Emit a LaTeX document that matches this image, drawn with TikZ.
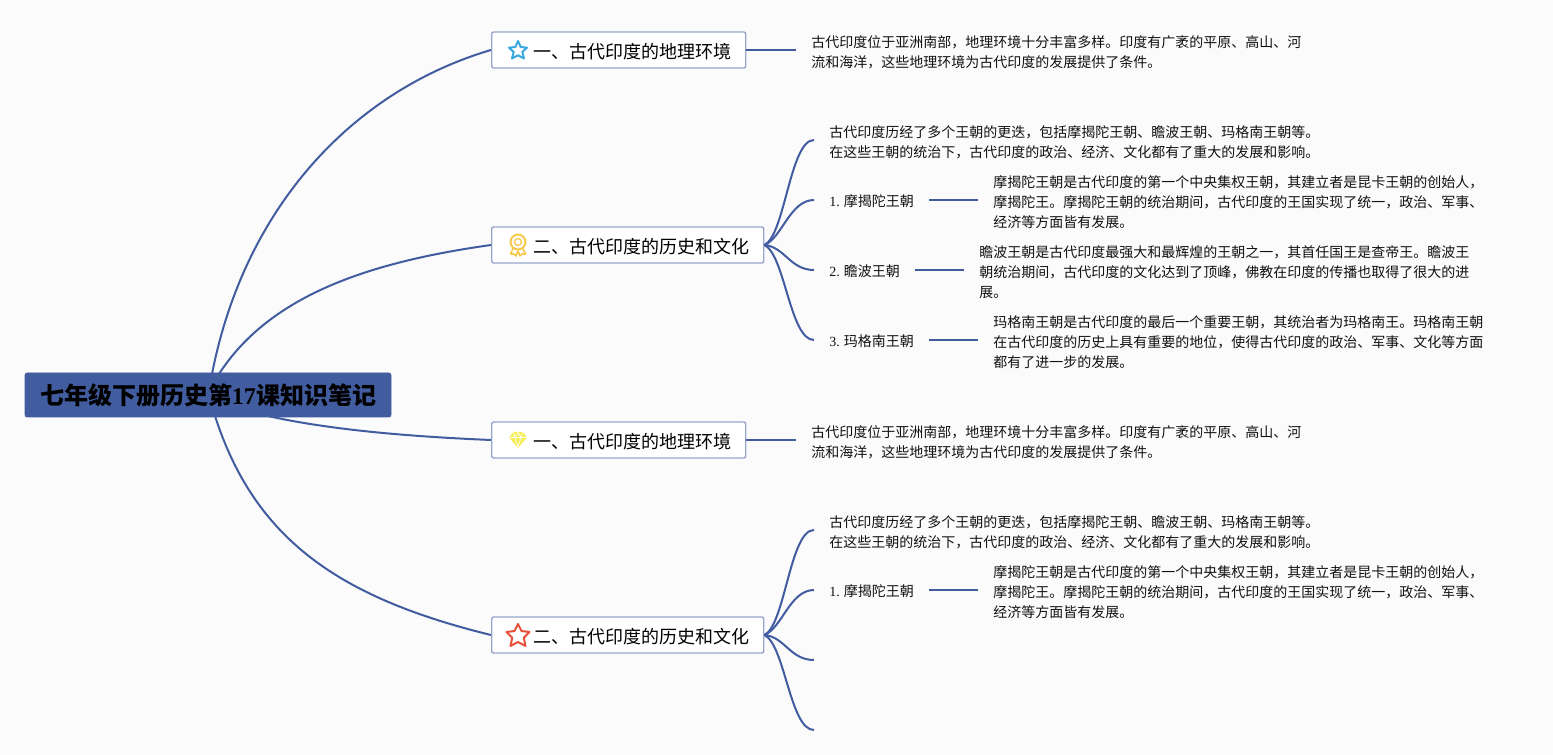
\documentclass[tikz,border=0pt]{standalone}
\usepackage{fontspec}
\setmainfont{Noto Sans CJK SC}
\newfontfamily\digitfont{Liberation Serif}
\definecolor{bgc}{HTML}{FBFBFC}
\definecolor{linec}{HTML}{425CA0}
\definecolor{boxc}{HTML}{98A6CC}
\definecolor{txtc}{HTML}{111111}
\definecolor{starblue}{HTML}{3AA8E0}
\definecolor{starred}{HTML}{E8503A}
\definecolor{medalc}{HTML}{F8C84A}
\definecolor{gemc}{HTML}{F6EC55}
\newcommand{\dg}[1]{{\digitfont #1}}
\tikzset{
  rootbox/.style={fill=linec,draw=linec,rounded corners=1.5pt,minimum width=274.5pt,minimum height=33pt,inner sep=0pt,text=black,text height=15pt,text depth=0pt,font=\fontsize{18}{22}\bfseries\selectfont},
  branchbox/.style={fill=white,draw=boxc,line width=1.1pt,rounded corners=1.5pt,minimum height=27pt,inner sep=0pt,anchor=west,text=black,text height=12.5pt,text depth=0pt,font=\fontsize{13.5}{16}\selectfont},
  leaf/.style={anchor=west,align=left,inner xsep=11.25pt,inner ysep=0pt,text=txtc,font=\fontsize{10.5}{15}\selectfont},
  tag/.style={leaf,text height=9.4pt,text depth=0pt},
  conn/.style={draw=linec,line width=1.5pt},
  icon/.style={line width=1.5pt,line join=round}
}
\newcommand{\boxtext}[1]{\hspace*{31.5pt}#1\hspace*{10.5pt}}
\begin{document}
\begin{tikzpicture}[x=0.75pt,y=-0.75pt]
\useasboundingbox (0,0) rectangle (1553,755);
\fill[bgc] (0,0) rectangle (1553,755);

\coordinate (r1) at (212,374);
\coordinate (r2) at (219,374);
\coordinate (r3) at (268,416);
\coordinate (r4) at (215,416);
\coordinate (e1) at (814,660);
\coordinate (e2) at (814,730);

\node[rootbox] (root) at (208,395) {七年级下册历史第\dg{17}课知识笔记};

\node[branchbox] (b1) at (491,50) {\boxtext{一、古代印度的地理环境}};
\node[branchbox] (b2) at (491,245) {\boxtext{二、古代印度的历史和文化}};
\node[branchbox] (b3) at (491,440) {\boxtext{一、古代印度的地理环境}};
\node[branchbox] (b4) at (491,635) {\boxtext{二、古代印度的历史和文化}};

\node[leaf] (a1) at (796,52) {古代印度位于亚洲南部，地理环境十分丰富多样。印度有广袤的平原、高山、河\\流和海洋，这些地理环境为古代印度的发展提供了条件。};
\node[leaf] (a2) at (814,142) {古代印度历经了多个王朝的更迭，包括摩揭陀王朝、瞻波王朝、玛格南王朝等。\\在这些王朝的统治下，古代印度的政治、经济、文化都有了重大的发展和影响。};
\node[tag] (l1) at (814,200) {\dg{1.} 摩揭陀王朝};
\node[tag] (l2) at (814,270) {\dg{2.} 瞻波王朝};
\node[tag] (l3) at (814,340) {\dg{3.} 玛格南王朝};
\node[leaf] (d1) at (978,202) {摩揭陀王朝是古代印度的第一个中央集权王朝，其建立者是昆卡王朝的创始人，\\摩揭陀王。摩揭陀王朝的统治期间，古代印度的王国实现了统一，政治、军事、\\经济等方面皆有发展。};
\node[leaf] (d2) at (964,272) {瞻波王朝是古代印度最强大和最辉煌的王朝之一，其首任国王是查帝王。瞻波王\\朝统治期间，古代印度的文化达到了顶峰，佛教在印度的传播也取得了很大的进\\展。};
\node[leaf] (d3) at (978,342) {玛格南王朝是古代印度的最后一个重要王朝，其统治者为玛格南王。玛格南王朝\\在古代印度的历史上具有重要的地位，使得古代印度的政治、军事、文化等方面\\都有了进一步的发展。};

\node[leaf] (a3) at (796,442) {古代印度位于亚洲南部，地理环境十分丰富多样。印度有广袤的平原、高山、河\\流和海洋，这些地理环境为古代印度的发展提供了条件。};
\node[leaf] (a4) at (814,532) {古代印度历经了多个王朝的更迭，包括摩揭陀王朝、瞻波王朝、玛格南王朝等。\\在这些王朝的统治下，古代印度的政治、经济、文化都有了重大的发展和影响。};
\node[tag] (l4) at (814,590) {\dg{1.} 摩揭陀王朝};
\node[leaf] (d4) at (978,592) {摩揭陀王朝是古代印度的第一个中央集权王朝，其建立者是昆卡王朝的创始人，\\摩揭陀王。摩揭陀王朝的统治期间，古代印度的王国实现了统一，政治、军事、\\经济等方面皆有发展。};

% root to branches
\draw[conn] (r1) .. controls (245,205) and (355,90) .. (b1.west);
\draw[conn] (r2) .. controls (270,295) and (370,262) .. (b2.west);
\draw[conn] (r3) .. controls (335,431) and (420,437) .. (b3.west);
\draw[conn] (r4) .. controls (255,540) and (340,598) .. (b4.west);

% branch to leaf
\draw[conn] (b1.east) -- (b1.east -| a1.west);
\draw[conn] (b3.east) -- (b3.east -| a3.west);
\draw[conn] (l1.east) -- (l1.east -| d1.west);
\draw[conn] (l2.east) -- (l2.east -| d2.west);
\draw[conn] (l3.east) -- (l3.east -| d3.west);
\draw[conn] (l4.east) -- (l4.east -| d4.west);

\draw[conn] (b2.east) .. controls (785,235) and (790,140) .. (a2.west |- 0,140);
\draw[conn] (b2.east) .. controls (782,238) and (790,200) .. (l1.west);
\draw[conn] (b2.east) .. controls (785,247) and (790,270) .. (l2.west);
\draw[conn] (b2.east) .. controls (785,255) and (790,340) .. (l3.west);
\draw[conn] (b4.east) .. controls (785,625) and (790,530) .. (a4.west |- 0,530);
\draw[conn] (b4.east) .. controls (782,628) and (790,590) .. (l4.west);
\draw[conn] (b4.east) .. controls (785,637) and (790,660) .. (e1);
\draw[conn] (b4.east) .. controls (785,645) and (790,730) .. (e2);

% icons
\draw[icon,draw=starblue] (518,41) -- (520.7,47) -- (527,47.7) -- (522.3,52) -- (524,58.5) -- (518,55.3) -- (512,58.5) -- (513.7,52) -- (509,47.7) -- (515.3,47) -- cycle;
\draw[icon,draw=starred] (518,624) -- (521.5,631) -- (529.5,632) -- (523.8,637.8) -- (525.5,646) -- (518,642) -- (510.5,646) -- (512.2,637.8) -- (506.5,632) -- (514.5,631) -- cycle;
% medal
\draw[icon,draw=medalc] (518,242) circle (7.5);
\draw[icon,draw=medalc,line width=1pt] (518,242) circle (3.5);
\draw[icon,draw=medalc,line width=1.2pt] (513,248.5) -- (510.5,254) -- (514,254) -- (516,256) -- (518,251) -- (520,256) -- (522,254) -- (525.5,254) -- (523,248.5);
% diamond
\fill[gemc] (513.5,432) -- (522.5,432) -- (527,437.5) -- (518,448) -- (509,437.5) -- cycle;
\draw[white,line width=0.5pt] (509.5,437.5) -- (526.5,437.5) (513.5,432.5) -- (515,437.5) -- (518,447) -- (521,437.5) -- (522.5,432.5) (515,437.5) -- (518,432.5) -- (521,437.5);
\end{tikzpicture}
\end{document}
